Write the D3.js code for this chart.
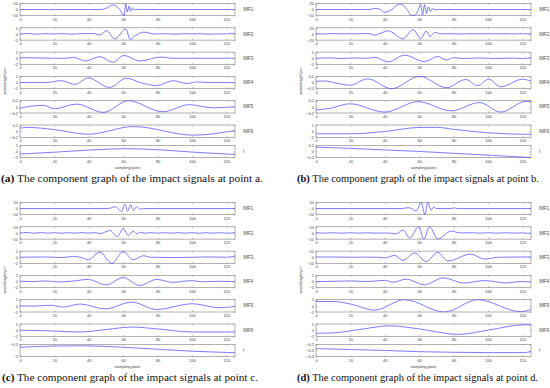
<!DOCTYPE html>
<html>
<head>
<meta charset="utf-8">
<script src="https://cdn.jsdelivr.net/npm/d3@7"></script>
<style>
  body { margin: 0; background: #fff; }
  svg { display: block; }
  .lbl { font-family: "Liberation Sans", Arial, sans-serif; fill: #444; }
  .cap { font-family: "Liberation Serif", "Times New Roman", serif; fill: #111; }
</style>
</head>
<body>
<div id="chart"></div>
<script>
// x axis (sampling point) ticks and the names of the components
let xTicks = [0, 20, 40, 60, 80, 100, 120];
let compNames = ["IMF1", "IMF2", "IMF3", "IMF4", "IMF5", "IMF6", "r"];

// y tick labels per subplot, top to bottom
let aTicks = [[10, 0, -10], [5, 0, -5], [2, 0, -2], [1, 0, -1], [0.2, 0, -0.2], [0.2, 0, -0.2], [1, 0, -1]];
let bTicks = [[20, 0, -20], [20, 0, -20], [5, 0, -5], [0.5, 0, -0.5], [0.2, 0, -0.2], [1, 0, -1], [0.2, 0, -0.2]];
let cTicks = [[10, 0, -10], [10, 0, -10], [2, 0, -2], [2, 0, -2], [1, 0, -1], [1, 0, -1], [-0.5, -1]];
let dTicks = [[20, 0, -20], [10, 0, -10], [10, 0, -10], [5, 0, -5], [1, 0, -1], [1, 0, -1], [-0.2, -0.3, -0.4]];

// ---- point a : [sampling point, wavelength]
let aIMF1 = [[0,0],[10,0.1],[20,-0.1],[30,0.1],[40,0],[47,0],[50,2],[54,7.5],[58,0],[60.5,-10],[61.5,9],[62.4,-4],[63.4,5.5],[64.3,-3],[65.3,3],[66.3,-0.5],[68,0.3],[80,0],[100,0.1],[125,0]];
let aIMF2 = [[0,0],[5,0.3],[10,-0.2],[15,0.2],[20,0],[25,0.3],[30,-0.2],[35,0.2],[40,0.4],[44,0],[46.5,-1],[50.4,2.7],[55,-4],[61.6,4],[64,-4.5],[67,-1.5],[72,1.5],[78,0],[85,0.2],[90,-0.2],[95,0.2],[100,0],[105,0.2],[110,-0.2],[115,0.1],[120,0],[123,0.5],[125,0]];
let aIMF3 = [[0,0.2],[10,0.1],[20,0],[27,0],[31,0.3],[38,-0.9],[46.5,0.5],[54,-1.3],[60.5,0.9],[69.8,-0.9],[82,0.4],[88,0],[100,0],[125,0]];
let aIMF4 = [[0,0],[15,0],[24,0.3],[32,-0.3],[39.7,0.75],[52,-0.8],[62,0.7],[70,0],[79.5,-0.5],[89,0.3],[97,-0.15],[103,0.1],[110,0],[125,0]];
let aIMF5 = [[0,-0.05],[6,0.02],[13.6,0.05],[20,-0.06],[33,0.09],[48.4,-0.18],[63,0.2],[83,-0.16],[98.4,0.07],[112,-0.03],[125,0]];
let aIMF6 = [[0,0.1],[5,0.12],[20,0.05],[39.7,-0.1],[66,0.15],[100.8,-0.13],[125,0.02]];
let aR = [[0,-0.42],[20,-0.12],[40,0.22],[62,0.45],[82,0.25],[100,-0.1],[125,-0.5]];

// ---- point b
let bIMF1 = [[0,0],[20,0],[30,0],[32,1],[35,4],[37.5,0],[40,-9],[44,0],[48.6,18],[53,0],[55.5,-20],[57.5,-19],[59.5,0],[60.8,17],[62,-18],[63.1,16],[64.3,-13],[65.4,9],[66.6,-6],[67.8,3],[69,-1],[71,0],[90,0],[125,0]];
let bIMF2 = [[0,1],[5,0],[10,1.5],[15,0],[20,1],[25,0.5],[30,1.5],[32,0],[34,-4],[36.5,0],[42,10],[50.6,-16],[56.4,14],[61,-15],[64,9],[66.4,-8],[69,5],[72.8,0],[78,1],[85,0],[90,1],[95,0],[100,1],[105,0],[110,1],[115,0],[120,1],[125,0]];
let bIMF3 = [[0,0],[8,0.3],[15,-0.2],[22,0.2],[30,0],[34.2,0.8],[42,-3],[51.5,2.5],[63,-2.7],[70.8,1.4],[75.7,-1.3],[80.5,0.5],[85,-0.2],[95,0.2],[105,-0.2],[115,0.1],[120,-0.3],[125,0.5]];
let bIMF4 = [[0,0.1],[5,0.13],[12,-0.05],[19.7,-0.22],[30,0.3],[44,-0.5],[60.2,0.5],[76,-0.42],[87,0.25],[94,-0.25],[100.4,0.27],[107.5,-0.35],[120,0.27],[125,0.12]];
let bIMF5 = [[0,-0.1],[8,-0.05],[19.7,0.1],[40,-0.17],[59.3,0.17],[78.6,-0.13],[95,0.14],[107.5,-0.17],[122,0.18],[125,0.17]];
let bIMF6 = [[0,-0.43],[20,-0.43],[40,-0.05],[60,0.6],[70,0.62],[80,0.3],[100,-0.27],[112,-0.45],[125,-0.52]];
let bR = [[0,0.14],[20,0.1],[40,0.05],[60,0],[80,-0.06],[100,-0.12],[125,-0.2]];

// ---- point c
let cIMF1 = [[0,0],[50,0],[53,1],[55,3],[57,0],[59,-5],[61,7],[62.6,-4],[64.3,6],[66,-3],[67.8,3],[69.8,-1],[71.7,0],[125,0]];
let cIMF2 = [[0,0],[4,0.8],[8,-0.5],[12,0.6],[16,-0.4],[20,0.5],[24,-0.5],[28,0.5],[32,-0.4],[36,0.6],[40,-0.3],[44,0.4],[46.5,-1],[52.3,4],[56.6,-6],[60,7],[63,-4],[65.9,3],[68,-1.5],[70,1],[73,-0.5],[76,0.6],[80,-0.5],[84,0.5],[88,-0.4],[92,0.5],[96,-0.4],[100,0.5],[104,-0.5],[108,0.4],[112,-0.4],[116,0.5],[120,-0.4],[125,0.3]];
let cIMF3 = [[0,0],[15,0.1],[25,-0.1],[31,0.3],[35,0],[39.7,-0.8],[46.5,1.7],[53.3,-2],[60,1.8],[65.9,-0.8],[71.7,0.5],[76,0],[90,-0.1],[110,0.1],[120,0],[125,0.4]];
let cIMF4 = [[0,0.1],[8,0],[15,0.2],[22,-0.1],[30,0.1],[39.7,0.7],[50,-1.1],[60,1.3],[69.4,-1.3],[79.5,0.7],[89,-0.3],[95,0.1],[100,0.3],[106,-0.1],[115,0.1],[125,0]];
let cIMF5 = [[0,0],[8,-0.05],[18,0.1],[25,-0.2],[35,0.3],[49.4,-0.5],[65,0.6],[79.5,-0.6],[100,0.35],[116,-0.3],[125,-0.1]];
let cIMF6 = [[0,0],[15,-0.1],[35,-0.3],[50,0.1],[65,0.5],[80,0.2],[100,-0.3],[125,-0.3]];
let cR = [[0,-0.62],[20,-0.57],[35,-0.56],[60,-0.62],[80,-0.7],[100,-0.78],[125,-0.84]];

// ---- point d
let dIMF1 = [[0,0],[50,0],[53.5,3],[55.5,0],[58.3,-8],[61.2,20],[63.3,-20],[65,20],[67,-5],[68.5,5],[70,0],[78,0],[80.5,2],[82,0],[125,0]];
let dIMF2 = [[0,0.5],[5,-0.3],[10,0.3],[15,-0.4],[20,0.3],[25,-0.3],[30,0.2],[35,-0.3],[40,0],[44,-0.5],[46.7,-1.5],[50.6,5],[54.4,-8],[59.7,10],[62.7,-10],[66,10],[70.8,-10],[78.6,3],[84,0],[90,0.4],[95,-0.3],[100,0.3],[105,-0.3],[110,0.3],[115,-0.3],[120,0.2],[123,-0.8],[125,0]];
let dIMF3 = [[0,0.5],[10,0.4],[20,0],[30,0.2],[36,0],[40,-1],[45.8,3],[50.6,-5],[57.3,7],[64,-7],[70.8,8],[76.6,-6],[90,5],[98,-3],[106,0],[115,0.3],[125,0.5]];
let dIMF4 = [[0,0],[10,0.2],[20,0.5],[30,0],[40,1],[44.8,-0.5],[52.5,2],[63,-2.7],[74,3],[86,-1.2],[98,0.8],[111,-1.2],[118,0],[125,-0.3]];
let dIMF5 = [[0,0.7],[10,0.7],[20,0.3],[34,-0.7],[51.5,1],[74.7,-1],[94,1],[119,-0.95],[125,-0.6]];
let dIMF6 = [[0,-0.5],[10,-0.45],[25,0.1],[43,0.7],[60,0.2],[83,-0.7],[100,0],[122,0.9],[125,0.85]];
let dR = [[0,-0.27],[20,-0.285],[40,-0.3],[60,-0.32],[80,-0.33],[100,-0.335],[120,-0.335],[125,-0.32]];

let captions = [
    ["(a)", " The component graph of the impact signals at point a."],
    ["(b)", " The component graph of the impact signals at point b."],
    ["(c)", " The component graph of the impact signals at point c."],
    ["(d)", " The component graph of the impact signals at point d."]
];

// panel layout
let panels = [
    {ox: 0,   oy: 0,   series: [aIMF1, aIMF2, aIMF3, aIMF4, aIMF5, aIMF6, aR], ticks: aTicks, cap: captions[0], capX: 1,   capW: 262},
    {ox: 296, oy: 0,   series: [bIMF1, bIMF2, bIMF3, bIMF4, bIMF5, bIMF6, bR], ticks: bTicks, cap: captions[1], capX: 297, capW: 242},
    {ox: 0,   oy: 199, series: [cIMF1, cIMF2, cIMF3, cIMF4, cIMF5, cIMF6, cR], ticks: cTicks, cap: captions[2], capX: 2,   capW: 256},
    {ox: 296, oy: 199, series: [dIMF1, dIMF2, dIMF3, dIMF4, dIMF5, dIMF6, dR], ticks: dTicks, cap: captions[3], capX: 297, capW: 241}
];

let svgWidth = 550, svgHeight = 388;
let plotLeft = 20, plotW = 215, plotH = 12.3;
let rowTops = [3.4, 27.8, 52.1, 76.4, 100.7, 125, 145.3];

let svg = d3.select("#chart").append("svg")
    .attr("width", svgWidth)
    .attr("height", svgHeight);

let x = d3.scaleLinear().domain([0, 125]).range([0, plotW]);

let line = d3.line()
    .x(d => x(d[0]))
    .curve(d3.curveMonotoneX);

let axisColor = "#666";

panels.forEach(function(p, pi) {
    let pg = svg.append("g").attr("transform", `translate(${p.ox}, ${p.oy})`);

    p.series.forEach(function(data, i) {
        let ticks = p.ticks[i];
        let y = d3.scaleLinear().domain(d3.extent(ticks)).range([plotH, 0]);

        let g = pg.append("g").attr("transform", `translate(${plotLeft}, ${rowTops[i]})`);

        let clipId = `clip-${pi}-${i}`;
        g.append("clipPath").attr("id", clipId)
            .append("rect").attr("x", 0).attr("y", -0.5).attr("width", plotW).attr("height", plotH + 1);

        // bottom axis with ticks pointing inward (matlab style)
        let xAxis = d3.axisBottom(x).tickValues(xTicks).tickSizeInner(-1.5).tickSizeOuter(0).tickPadding(2.2);
        let xa = g.append("g").attr("transform", `translate(0, ${plotH})`).call(xAxis);
        xa.select(".domain").remove();
        xa.selectAll("line").attr("stroke", axisColor).attr("stroke-width", 0.4);
        xa.selectAll("text").attr("class", "lbl").attr("font-size", 4).attr("fill", "#444");

        // top ticks
        g.append("g").call(d3.axisTop(x).tickValues(xTicks).tickSizeInner(-1.5).tickSizeOuter(0).tickFormat(""))
            .call(s => s.select(".domain").remove())
            .selectAll("line").attr("stroke", axisColor).attr("stroke-width", 0.4);

        let yAxis = d3.axisLeft(y).tickValues(ticks).tickSizeInner(-1.5).tickSizeOuter(0).tickPadding(2)
            .tickFormat(d => String(d).replace("-", "\u2212"));
        let ya = g.append("g").call(yAxis);
        ya.select(".domain").remove();
        ya.selectAll("line").attr("stroke", axisColor).attr("stroke-width", 0.4);
        ya.selectAll("text").attr("class", "lbl").attr("font-size", 4).attr("fill", "#444");

        g.append("g").attr("transform", `translate(${plotW}, 0)`)
            .call(d3.axisRight(y).tickValues(ticks).tickSizeInner(-1.5).tickSizeOuter(0).tickFormat(""))
            .call(s => s.select(".domain").remove())
            .selectAll("line").attr("stroke", axisColor).attr("stroke-width", 0.4);

        // box
        g.append("rect")
            .attr("width", plotW).attr("height", plotH)
            .attr("fill", "none").attr("stroke", axisColor).attr("stroke-width", 0.5);

        g.append("path")
            .datum(data)
            .attr("clip-path", `url(#${clipId})`)
            .attr("d", line.y(d => y(d[1])))
            .attr("fill", "none")
            .attr("stroke", "#5050ff")
            .attr("stroke-width", 0.75);

        g.append("text")
            .attr("class", "lbl")
            .attr("x", plotW + 8)
            .attr("y", plotH / 2)
            .attr("dy", "0.35em")
            .attr("font-size", 4.5)
            .text(compNames[i]);
    });

    // y axis title and x axis title
    pg.append("text")
        .attr("class", "lbl")
        .attr("transform", `translate(6, 81) rotate(-90)`)
        .attr("text-anchor", "middle")
        .attr("font-size", 4)
        .text("wavelength/\u03bcm");

    pg.append("text")
        .attr("class", "lbl")
        .attr("x", plotLeft + plotW / 2)
        .attr("y", 167.3)
        .attr("dy", "0.35em")
        .attr("text-anchor", "middle")
        .attr("font-size", 4)
        .text("sampling point");

    // caption
    let cap = svg.append("text")
        .attr("class", "cap")
        .attr("x", p.capX)
        .attr("y", p.oy + 181.5)
        .attr("font-size", 10)
        .attr("textLength", p.capW)
        .attr("lengthAdjust", "spacingAndGlyphs");
    cap.append("tspan").attr("font-weight", "bold").text(p.cap[0]);
    cap.append("tspan").text(p.cap[1]);
});
</script>
</body>
</html>
